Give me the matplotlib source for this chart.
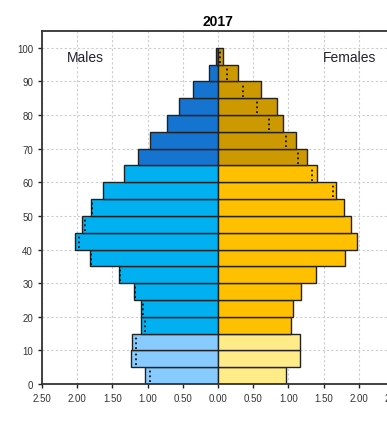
import matplotlib.pyplot as plt

plt.rcParams['font.family'] = ['Liberation Sans', 'DejaVu Sans']

# 年龄组 (起始年龄) 与各组占比 (%)
age_start = [0, 5, 10, 15, 20, 25, 30, 35, 40, 45, 50, 55, 60, 65, 70, 75, 80, 85, 90, 95]
males = [1.04, 1.24, 1.22, 1.10, 1.10, 1.19, 1.40, 1.82, 2.03, 1.93,
         1.80, 1.63, 1.33, 1.14, 0.96, 0.72, 0.56, 0.36, 0.13, 0.03]
females = [0.97, 1.16, 1.16, 1.04, 1.06, 1.18, 1.39, 1.80, 1.97, 1.89,
           1.79, 1.67, 1.41, 1.26, 1.11, 0.93, 0.84, 0.61, 0.28, 0.075]
x_ticks = [-2.5, -2.0, -1.5, -1.0, -0.5, 0.0, 0.5, 1.0, 1.5, 2.0, 2.5]
y_ticks = [0, 10, 20, 30, 40, 50, 60, 70, 80, 90, 100]
year = '2017'


def group_color(age, young, work, old):
    if age < 15:
        return young
    if age < 65:
        return work
    return old


m_colors = [group_color(a, '#88CCFF', '#00B0F0', '#1674D1') for a in age_start]
f_colors = [group_color(a, '#FFEB88', '#FFC000', '#CC9900') for a in age_start]

fig = plt.figure(figsize=(3.87, 4.27), dpi=100)
ax = fig.add_axes([0.1085, 0.0984, 0.9095, 0.8266])

ax.barh(age_start, [-v for v in males], height=5, align='edge', color=m_colors,
        edgecolor='#222222', linewidth=1, zorder=2)
ax.barh(age_start, females, height=5, align='edge', color=f_colors,
        edgecolor='#222222', linewidth=1, zorder=2)

# 虚线: 另一性别的数值 (仅在柱内时可见)
for a, m, f in zip(age_start, males, females):
    if f < m:
        ax.vlines(-f, a + 0.5, a + 4.5, colors='#111111', linestyles=':', linewidth=1.3, zorder=3)
    if m < f:
        ax.vlines(m, a + 0.5, a + 4.5, colors='#111111', linestyles=':', linewidth=1.3, zorder=3)

ax.set_xlim(-2.5, 2.5)
ax.set_ylim(0, 105)
ax.set_xticks(x_ticks)
ax.set_xticklabels([f'{abs(v):.2f}' for v in x_ticks])
ax.set_yticks(y_ticks)
ax.tick_params(labelsize=7, colors='#333333', length=3, width=1)
ax.tick_params(axis='both', color='#222222')
ax.grid(True, color='#cccccc', linestyle=(0, (2, 2)), linewidth=0.8, zorder=0)
ax.set_axisbelow(True)

for side in ['left', 'bottom', 'top']:
    ax.spines[side].set_linewidth(1.3)
    ax.spines[side].set_color('#333333')
ax.spines['right'].set_visible(False)

ax.set_title(year, fontsize=10, fontweight='bold', pad=4)
ax.text(-1.89, 97.3, 'Males', fontsize=10, color='#222233', ha='center', va='center')
ax.text(1.87, 97.3, 'Females', fontsize=10, color='#222233', ha='center', va='center')

plt.savefig('out.png', dpi=100)
